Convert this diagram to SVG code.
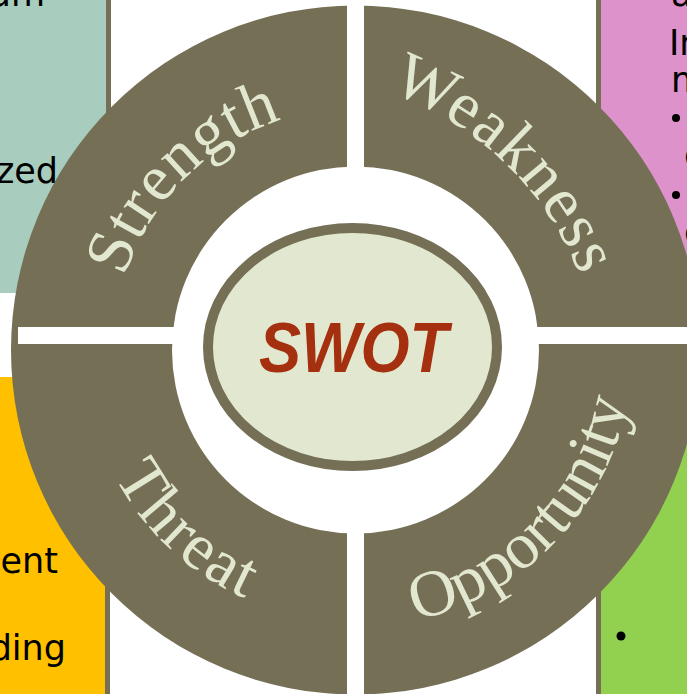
<svg xmlns="http://www.w3.org/2000/svg" width="687" height="694" viewBox="0 0 687 694">
<style>
.box-text{font-family:"DejaVu Sans","Liberation Sans",sans-serif;font-size:35px;fill:#000}
.arc-text{font-family:"Liberation Serif","Times New Roman",serif;font-size:66px;fill:#E2E8CF}
.brown{fill:#756F56}
.gap{fill:#FFFFFF}
</style>
<defs>
<path id="arcS" d="M117.2,392 A242,242 0 0 1 397.5,111.7"/>
<path id="arcW" d="M256.6,75.5 A317.8,317.8 0 0 1 600.9,419.8"/>
<path id="arcT" d="M83.7,359.5 A272,272 0 0 0 365,621.8"/>
<path id="arcO" d="M360.3,627 A277,277 0 0 0 632.5,345.2"/>
</defs>
<rect width="687" height="694" fill="#FFFFFF"/>
<g id="box-strength">
<rect x="0" y="0" width="106" height="293" fill="#A8CDBE"/>
<rect x="106" y="0" width="5" height="293" class="brown"/>
<text class="box-text" x="45" y="6" text-anchor="end">um</text>
<text class="box-text" x="58" y="183" text-anchor="end">zed</text>
</g>
<g id="box-threat">
<rect x="0" y="377" width="105" height="317" fill="#FFC000"/>
<rect x="105" y="377" width="5" height="317" class="brown"/>
<text class="box-text" x="58" y="573" text-anchor="end">ent</text>
<text class="box-text" x="66" y="660" text-anchor="end">ding</text>
</g>
<g id="box-weakness">
<rect x="601" y="0" width="86" height="327" fill="#DE92CC"/>
<rect x="596" y="0" width="5" height="327" class="brown"/>
<text class="box-text" x="671" y="6">a</text>
<text class="box-text" x="669" y="55">In</text>
<text class="box-text" x="671" y="92">m</text>
<circle cx="676" cy="118" r="4" fill="#000"/>
<text class="box-text" x="684" y="167">c</text>
<circle cx="676" cy="195" r="4" fill="#000"/>
<text class="box-text" x="684" y="244">c</text>
</g>
<g id="box-opportunity">
<rect x="601" y="344" width="86" height="350" fill="#92D050"/>
<rect x="596" y="344" width="5" height="350" class="brown"/>
<circle cx="621" cy="636" r="4.5" fill="#000"/>
</g>
<g id="swot-ring">
<circle cx="355.5" cy="350" r="344.5" class="brown"/>
<circle cx="355.5" cy="350" r="183.5" class="gap"/>
<rect x="347" y="0" width="17" height="694" class="gap"/>
<rect x="18" y="327" width="669" height="17" class="gap"/>
</g>
<g id="quadrant-strength">
<text class="arc-text" letter-spacing="1"><textPath href="#arcS" startOffset="50%" text-anchor="middle">Strength</textPath></text>
</g>
<g id="quadrant-weakness">
<text class="arc-text" letter-spacing="1.5"><textPath href="#arcW" startOffset="49%" text-anchor="middle">Weakness</textPath></text>
</g>
<g id="quadrant-threat">
<text class="arc-text" letter-spacing="2"><textPath href="#arcT" startOffset="50%" text-anchor="middle">Threat</textPath></text>
</g>
<g id="quadrant-opportunity">
<text class="arc-text"><textPath href="#arcO" startOffset="50%" text-anchor="middle">Opportunity</textPath></text>
</g>
<g id="center-swot">
<ellipse cx="352.5" cy="347" rx="144.5" ry="119" fill="#E2E8CF" stroke="#756F56" stroke-width="10"/>
<text x="353.5" y="372" text-anchor="middle" textLength="189" lengthAdjust="spacingAndGlyphs" font-family="'Liberation Sans',Arial,sans-serif" font-size="70" font-weight="bold" font-style="italic" fill="#A5300F">SWOT</text>
</g>
<g id="connectors"/>
</svg>
